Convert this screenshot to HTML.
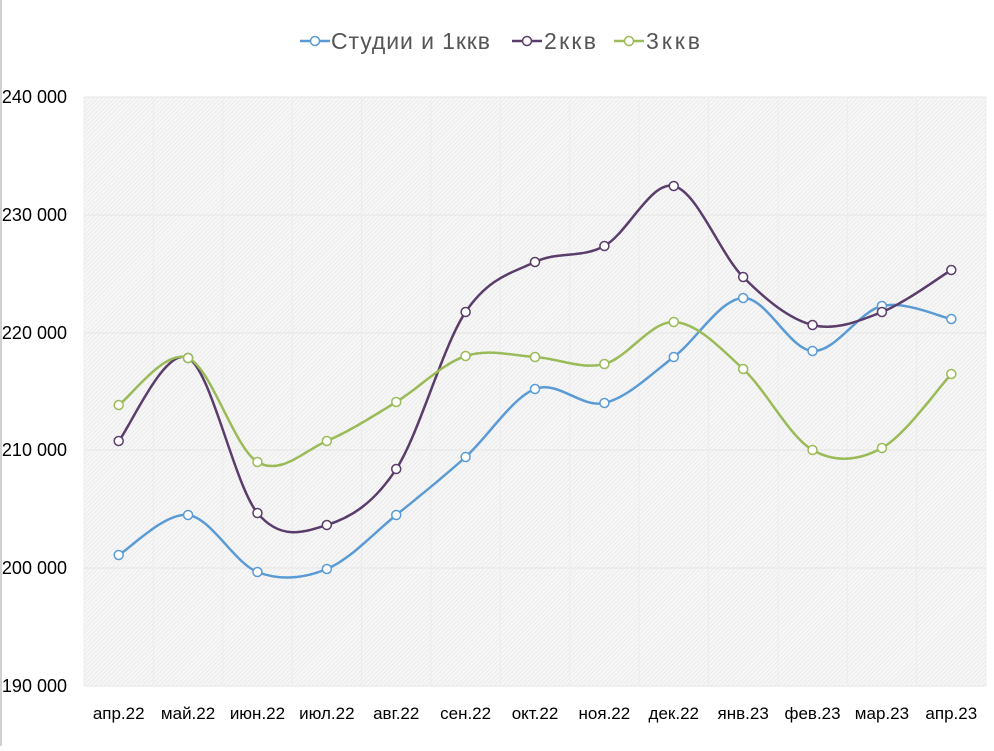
<!DOCTYPE html><html><head><meta charset="utf-8"><style>body{margin:0;background:#fff;font-family:"Liberation Sans","DejaVu Sans",sans-serif}</style></head><body>
<svg id="s" width="994" height="746" xmlns="http://www.w3.org/2000/svg" font-family="Liberation Sans, DejaVu Sans, sans-serif">
<defs><pattern id="h" width="3" height="3" patternUnits="userSpaceOnUse" patternTransform="rotate(45)"><rect width="3" height="3" fill="#f7f7f7"/><rect width="1" height="3" fill="#ebebeb"/></pattern></defs>
<rect x="0" y="0" width="2" height="746" fill="#d0d0d0"/>
<rect x="84" y="97" width="902" height="589" fill="url(#h)"/>
<g id="grid" stroke="#e6e6e6" stroke-width="1"></g>
<g font-size="18" fill="#000" text-anchor="end" id="yl"></g>
<g font-size="17" fill="#000" text-anchor="middle" id="xl"></g>
<g id="ser"></g>
<g font-size="23" fill="#555">
<line x1="300" y1="41" x2="330" y2="41" stroke="#5b9bd5" stroke-width="2.5"/><circle cx="315" cy="41" r="4.5" fill="#fff" stroke="#5b9bd5" stroke-width="1.5"/><text x="331" y="49" textLength="159">Студии и 1ккв</text>
<line x1="512" y1="41" x2="542" y2="41" stroke="#5a3d6b" stroke-width="2.5"/><circle cx="527" cy="41" r="4.5" fill="#fff" stroke="#5a3d6b" stroke-width="1.5"/><text x="544" y="49" textLength="52">2ккв</text>
<line x1="614" y1="41" x2="644" y2="41" stroke="#9bbb59" stroke-width="2.5"/><circle cx="629" cy="41" r="4.5" fill="#fff" stroke="#9bbb59" stroke-width="1.5"/><text x="646" y="49" textLength="54">3ккв</text>
</g>
</svg>
<script>
var NS="http://www.w3.org/2000/svg";function el(p,t,a,tx){var e=document.createElementNS(NS,t);for(var k in a)e.setAttribute(k,a[k]);if(tx)e.textContent=tx;document.getElementById(p).appendChild(e);return e;}
var ys=[97,215,333,450,568,686],yv=["240 000","230 000","220 000","210 000","200 000","190 000"];
ys.forEach(function(y,i){el("grid","line",{x1:84,x2:986,y1:y,y2:y});el("yl","text",{x:67,y:y+6},yv[i]);});
var sp=902/13,lab=["апр.22","май.22","июн.22","июл.22","авг.22","сен.22","окт.22","ноя.22","дек.22","янв.23","фев.23","мар.23","апр.23"];
for(var i=0;i<=13;i++)el("grid","line",{x1:84+i*sp,x2:84+i*sp,y1:97,y2:686,stroke:"#ececec"});
lab.forEach(function(l,i){el("xl","text",{x:84+sp*(i+.5),y:719},l);});
var D=[["#5b9bd5",[555,515,572,569,515,457,389,403,357,298,351,306,319]],["#5a3d6b",[441,358,513,525,469,312,262,246,186,277,325,312,270]],["#9bbb59",[405,358,462,441,402,356,357,364,322,369,450,448,374]]];
D.forEach(function(s){var p=s[1].map(function(y,i){return[84+sp*(i+.5),y]});var d="M"+p[0];
for(var i=0;i<p.length-1;i++){var a=p[i-1]||p[i],b=p[i],c=p[i+1],e=p[i+2]||c;d+=" C"+(b[0]+(c[0]-a[0])/6)+","+(b[1]+(c[1]-a[1])/6)+" "+(c[0]-(e[0]-b[0])/6)+","+(c[1]-(e[1]-b[1])/6)+" "+c;}
el("ser","path",{d:d,fill:"none",stroke:s[0],"stroke-width":2.5});
p.forEach(function(q){el("ser","circle",{cx:q[0],cy:q[1],r:4.5,fill:"#fff",stroke:s[0],"stroke-width":1.5});});});
</script></body></html>
